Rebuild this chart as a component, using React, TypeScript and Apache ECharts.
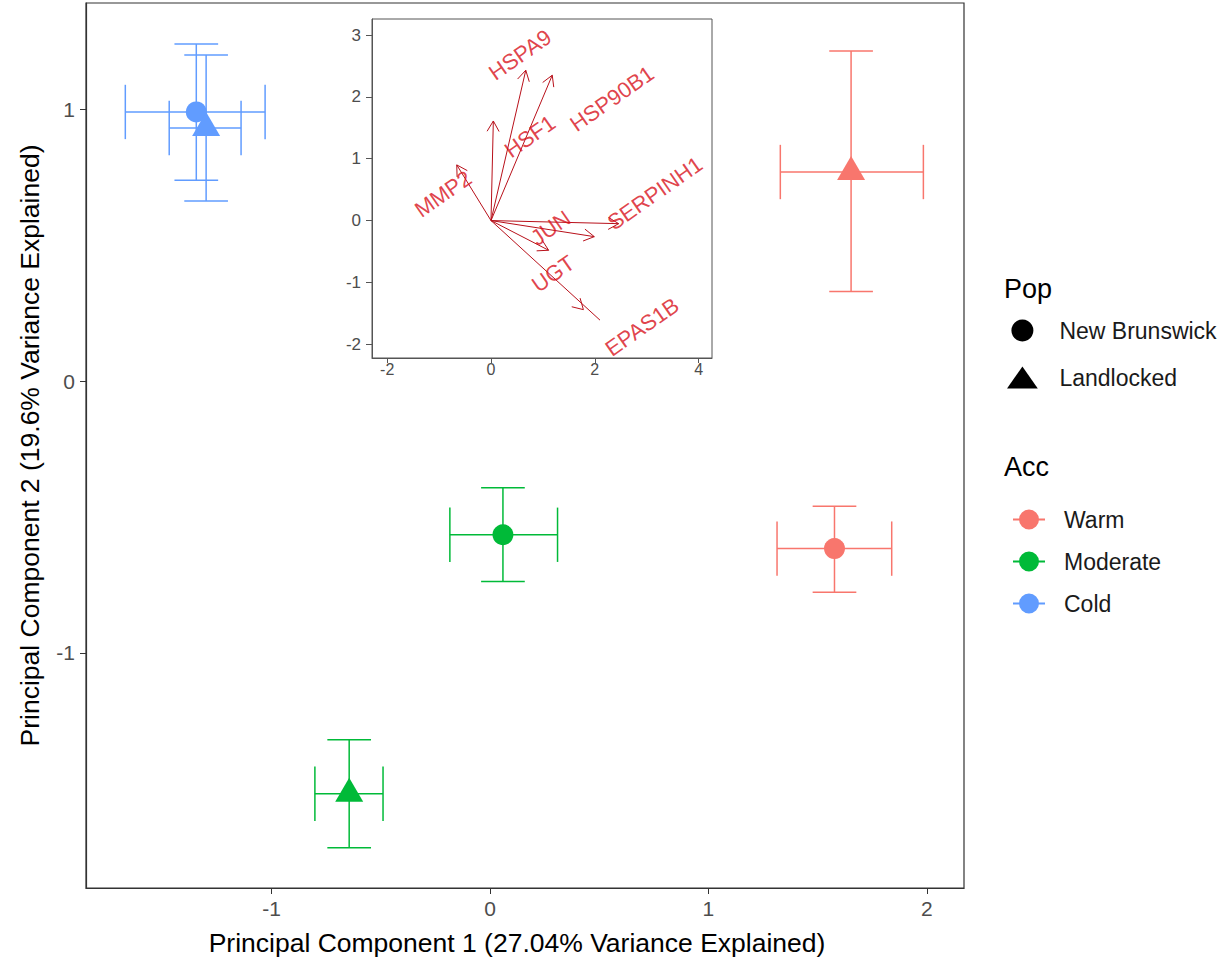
import React, { useEffect, useRef } from "react";
import * as echarts from "echarts";

// ---- Main PCA group means (Pop x Acc) ----
const pointPop = ["New Brunswick", "Landlocked", "New Brunswick", "Landlocked", "New Brunswick", "Landlocked"];
const pointAcc = ["Warm", "Warm", "Moderate", "Moderate", "Cold", "Cold"];
const pc1Mean = [1.577, 1.653, 0.059, -0.645, -1.345, -1.3];
const pc1Lo = [1.314, 1.329, -0.184, -0.802, -1.67, -1.469];
const pc1Hi = [1.839, 1.984, 0.309, -0.49, -1.03, -1.14];
const pc2Mean = [-0.616, 0.77, -0.565, -1.518, 0.991, 0.932];
const pc2Lo = [-0.777, 0.33, -0.737, -1.717, 0.74, 0.663];
const pc2Hi = [-0.46, 1.215, -0.392, -1.319, 1.241, 1.201];

const popLevels = ["New Brunswick", "Landlocked"];
const accLevels = ["Warm", "Moderate", "Cold"];

const xTicks = [-1, 0, 1, 2];
const yTicks = [-1, 0, 1];

// ---- Inset biplot loadings ----
const genes = ["MMP2", "HSF1", "HSPA9", "HSP90B1", "SERPINH1", "JUN", "UGT", "EPAS1B"];
const arrowX = [-0.66, 0.045, 0.67, 1.18, 2.46, 1.99, 1.11, 1.78];
const arrowY = [0.9, 1.61, 2.43, 2.35, -0.05, -0.26, -0.48, -1.44];
const lineEndX = [-0.66, 0.045, 0.67, 1.18, 2.46, 1.99, 1.11, 2.1];
const lineEndY = [0.9, 1.61, 2.43, 2.35, -0.05, -0.26, -0.48, -1.61];
const labelX = [-0.92, 0.75, 0.56, 2.33, 3.16, 1.15, 1.2, 2.91];
const labelY = [0.43, 1.36, 2.68, 1.97, 0.44, -0.12, -0.86, -1.72];
const insetXTicks = [-2, 0, 2, 4];
const insetYTicks = [-2, -1, 0, 1, 2, 3];

const ACC_COLORS: Record<string, string> = { Warm: "#F8766D", Moderate: "#00BA38", Cold: "#619CFF" };
const FONT = "'Liberation Sans', Arial, sans-serif";
const CAP = 0.1;
const ARROW_COLOR = "#B8101A";
const LABEL_COLOR = "#D8121C";

export default function App() {
  const ref = useRef<HTMLDivElement>(null);

  useEffect(() => {
    if (!ref.current) return;
    const chart = echarts.init(ref.current, undefined, { renderer: "svg" });

    const errorSeries = accLevels.map((acc) => ({
      name: acc,
      type: "custom",
      xAxisIndex: 0,
      yAxisIndex: 0,
      itemStyle: { color: ACC_COLORS[acc] },
      data: pointAcc
        .map((a, i) => (a === acc ? [pc1Mean[i], pc2Mean[i], pc1Lo[i], pc1Hi[i], pc2Lo[i], pc2Hi[i]] : null))
        .filter((d) => d !== null),
      renderItem: (params: any, api: any) => {
        const x = api.value(0), y = api.value(1);
        const xlo = api.value(2), xhi = api.value(3), ylo = api.value(4), yhi = api.value(5);
        const c = api.visual("color");
        const style = { stroke: c, lineWidth: 1.5, fill: "none" };
        const p = (a: number, b: number) => api.coord([a, b]);
        const seg = (a: number[], b: number[]) => ({
          type: "line",
          shape: { x1: a[0], y1: a[1], x2: b[0], y2: b[1] },
          style,
        });
        return {
          type: "group",
          children: [
            seg(p(x, ylo), p(x, yhi)),
            seg(p(x - CAP, ylo), p(x + CAP, ylo)),
            seg(p(x - CAP, yhi), p(x + CAP, yhi)),
            seg(p(xlo, y), p(xhi, y)),
            seg(p(xlo, y - CAP), p(xlo, y + CAP)),
            seg(p(xhi, y - CAP), p(xhi, y + CAP)),
          ],
        };
      },
      z: 2,
    }));

    const pointSeries = popLevels.map((pop) => ({
      name: pop,
      type: "scatter",
      xAxisIndex: 0,
      yAxisIndex: 0,
      symbol: pop === "New Brunswick" ? "circle" : "triangle",
      symbolSize: pop === "New Brunswick" ? 21 : [28, 24],
      symbolOffset: pop === "New Brunswick" ? [0, 0] : [0, -4],
      itemStyle: { color: "#000", opacity: 1 },
      data: pointPop
        .map((p, i) =>
          p === pop ? { value: [pc1Mean[i], pc2Mean[i]], itemStyle: { color: ACC_COLORS[pointAcc[i]] } } : null
        )
        .filter((d) => d !== null),
      z: 3,
    }));

    const arrowSeries = {
      type: "custom",
      name: "loadings",
      xAxisIndex: 1,
      yAxisIndex: 1,
      data: genes.map((g, i) => [arrowX[i], arrowY[i], lineEndX[i], lineEndY[i]]),
      renderItem: (params: any, api: any) => {
        const o = api.coord([0, 0]);
        const t = api.coord([api.value(0), api.value(1)]);
        const e = api.coord([api.value(2), api.value(3)]);
        const ang = Math.atan2(t[1] - o[1], t[0] - o[0]);
        const L = 12, A = Math.PI / 6;
        const w1 = [t[0] - L * Math.cos(ang - A), t[1] - L * Math.sin(ang - A)];
        const w2 = [t[0] - L * Math.cos(ang + A), t[1] - L * Math.sin(ang + A)];
        const style = { stroke: ARROW_COLOR, lineWidth: 1, fill: "none" };
        return {
          type: "group",
          children: [
            { type: "line", shape: { x1: o[0], y1: o[1], x2: e[0], y2: e[1] }, style },
            { type: "polyline", shape: { points: [w1, t, w2] }, style },
          ],
        };
      },
      z: 5,
    };

    const labelSeries = {
      type: "scatter",
      name: "geneLabels",
      xAxisIndex: 1,
      yAxisIndex: 1,
      symbol: "circle",
      symbolSize: 1,
      itemStyle: { color: "rgba(0,0,0,0)" },
      data: genes.map((g, i) => ({ name: g, value: [labelX[i], labelY[i]] })),
      label: {
        show: true,
        position: "inside",
        formatter: (p: any) => p.name,
        rotate: 35,
        color: LABEL_COLOR,
        fontSize: 22,
        fontFamily: FONT,
      },
      z: 6,
    };

    const axisCommon = {
      splitLine: { show: false },
    };

    chart.setOption({
      animation: false,
      backgroundColor: "#fff",
      textStyle: { fontFamily: FONT },
      grid: [
        { left: 86, right: 263, top: 3, bottom: 76, show: true, borderColor: "#333", borderWidth: 1.2, backgroundColor: "#fff" },
        { left: 372, top: 19, width: 340, height: 339, show: true, borderColor: "#555", borderWidth: 1, backgroundColor: "#fff", z: 4 },
      ],
      xAxis: [
        {
          ...axisCommon,
          type: "value",
          gridIndex: 0,
          min: -1.85,
          max: 2.17,
          name: "Principal Component 1 (27.04% Variance Explained)",
          nameLocation: "middle",
          nameGap: 41,
          nameTextStyle: { fontSize: 26.5, color: "#000", fontFamily: FONT, padding: [0, 16, 0, 0] },
          axisLine: { show: true, onZero: false, lineStyle: { color: "#333", width: 1.2 } },
          axisTick: { show: true, length: 6, customValues: xTicks, lineStyle: { color: "#333" } },
          axisLabel: { customValues: xTicks, fontSize: 21, color: "#4D4D4D", margin: 10, fontFamily: FONT },
        },
        {
          ...axisCommon,
          type: "value",
          gridIndex: 1,
          min: -2.293,
          max: 4.258,
          axisLine: { show: true, onZero: false, lineStyle: { color: "#555" } },
          axisTick: { show: true, length: 5, customValues: insetXTicks, lineStyle: { color: "#555" } },
          axisLabel: { customValues: insetXTicks, fontSize: 16, color: "#4D4D4D", margin: 3, fontFamily: FONT },
          z: 4,
        },
      ],
      yAxis: [
        {
          ...axisCommon,
          type: "value",
          gridIndex: 0,
          min: -1.865,
          max: 1.392,
          name: "Principal Component 2 (19.6% Variance Explained)",
          nameLocation: "middle",
          nameGap: 43,
          nameTextStyle: { fontSize: 26.5, color: "#000", fontFamily: FONT },
          axisLine: { show: true, onZero: false, lineStyle: { color: "#333", width: 1.2 } },
          axisTick: { show: true, length: 6, customValues: yTicks, lineStyle: { color: "#333" } },
          axisLabel: { customValues: yTicks, fontSize: 21, color: "#4D4D4D", margin: 11, fontFamily: FONT },
        },
        {
          ...axisCommon,
          type: "value",
          gridIndex: 1,
          min: -2.222,
          max: 3.259,
          axisLine: { show: true, onZero: false, lineStyle: { color: "#555" } },
          axisTick: { show: true, length: 6, customValues: insetYTicks, lineStyle: { color: "#555" } },
          axisLabel: { customValues: insetYTicks, fontSize: 17, color: "#4D4D4D", margin: 11, fontFamily: FONT },
          z: 4,
        },
      ],
      legend: [
        {
          orient: "vertical",
          left: 1002,
          top: 314,
          itemWidth: 32,
          itemHeight: 22,
          itemGap: 24,
          selectedMode: false,
          data: [
            { name: "New Brunswick", icon: "circle", itemStyle: { color: "#000" } },
            { name: "Landlocked", icon: "path://M0,20L14,0L28,20Z", itemStyle: { color: "#000" } },
          ],
          textStyle: { fontSize: 23, color: "#1a1a1a", fontFamily: FONT, padding: [0, 0, 0, 16] },
        },
        {
          orient: "vertical",
          left: 1008,
          top: 503,
          itemWidth: 32,
          itemHeight: 20,
          itemGap: 19,
          selectedMode: false,
          data: accLevels.map((a) => ({
            name: a,
            icon: "path://M0,9h32v2h-32z M16,0a10,10 0 1,1 0,20a10,10 0 1,1 0,-20z",
            itemStyle: { color: ACC_COLORS[a] },
          })),
          textStyle: { fontSize: 23, color: "#1a1a1a", fontFamily: FONT, padding: [0, 0, 0, 14] },
        },
      ],
      graphic: [
        { type: "text", x: 1004, y: 289, style: { text: "Pop", fontSize: 27, fill: "#000", fontFamily: FONT, verticalAlign: "middle" } },
        { type: "text", x: 1004, y: 467, style: { text: "Acc", fontSize: 27, fill: "#000", fontFamily: FONT, verticalAlign: "middle" } },
      ],
      series: [...errorSeries, ...pointSeries, arrowSeries, labelSeries],
    });

    return () => chart.dispose();
  }, []);

  return <div ref={ref} style={{ position: "fixed", left: 0, top: 0, width: 1227, height: 964 }} />;
}
